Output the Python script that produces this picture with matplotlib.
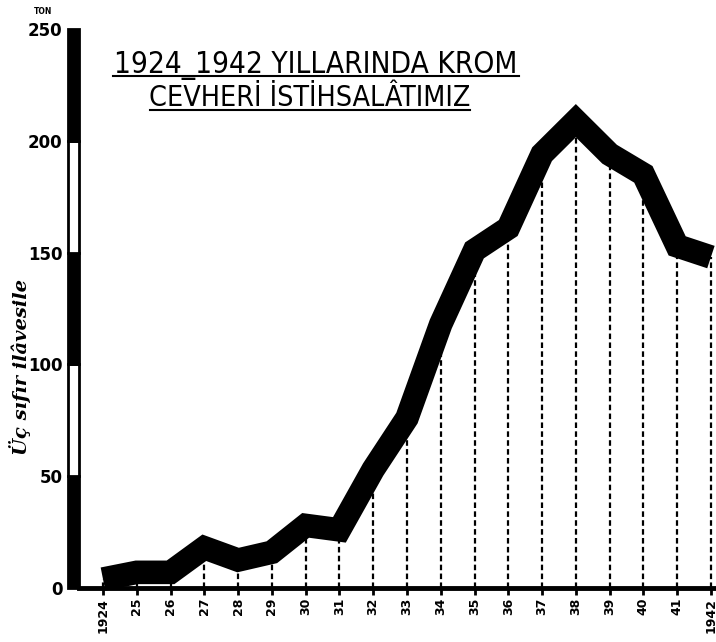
import matplotlib
matplotlib.use("Agg")
import matplotlib.pyplot as plt
from matplotlib.patches import Rectangle
from matplotlib.lines import Line2D
from matplotlib.transforms import blended_transform_factory

# chrome ore production, thousand tons
years = list(range(1924, 1943))
production = [4, 7, 7, 18, 12.5, 16, 28, 26, 53, 76, 118, 151, 161, 194, 209, 194, 185, 153, 148]
year_labels = ["1924"] + [str(y)[2:] for y in years[1:-1]] + ["1942"]
y_ticks = [0, 50, 100, 150, 200, 250]

W, H = 716, 642
fig = plt.figure(figsize=(W / 100, H / 100), dpi=100)
fig.patch.set_facecolor("white")
ax = fig.add_axes([79 / W, 54 / H, 1 - 79 / W, (588 - 29) / H])

# dashed drop lines from the axis up to the curve
ax.vlines(years, 0, production, colors="black", linestyles=(0, (2.5, 1.5)), linewidth=1.6, zorder=1)
# the thick production line
ax.plot(years, production, color="black", linewidth=17, solid_joinstyle="miter",
        solid_capstyle="butt", zorder=3, clip_on=False)

ax.set_xlim(1923.29, 1942.15)
ax.set_ylim(0, 250)

for s in ["top", "right", "left"]:
    ax.spines[s].set_visible(False)
ax.spines["bottom"].set_linewidth(3.5)

ax.set_xticks(years)
ax.set_xticklabels(year_labels, rotation=90, fontsize=9, fontweight="bold", va="top")
ax.tick_params(axis="x", length=5, width=2, pad=2)

ax.set_yticks(y_ticks)
ax.set_yticklabels([str(v) for v in y_ticks], fontsize=12, fontweight="bold")
ax.tick_params(axis="y", length=0, pad=12)

# thick segmented y axis bar
tr = blended_transform_factory(fig.transFigure, ax.transData)
for i in range(len(y_ticks) - 1):
    lo, hi = y_ticks[i], y_ticks[i + 1]
    fill = "black" if i % 2 == 0 else "white"
    r = Rectangle((68 / W, lo), 11 / W, hi - lo, transform=tr, facecolor=fill,
                  edgecolor="black", linewidth=2, clip_on=False, zorder=5)
    fig.add_artist(r)

fig.text(43 / W, 1 - 11 / H, "TON", fontsize=5.5, fontweight="bold", ha="center", va="center")

fig.text(20 / W, 1 - 367 / H, "Üç sıfır ilâvesile", rotation=90, fontsize=14,
         family="DejaVu Serif", style="italic", fontweight="bold", ha="center", va="center")

# title with underlines
fig.text(316 / W, 1 - 73 / H, "1924_1942 YILLARINDA KROM", fontsize=21.3, ha="center",
         va="baseline", family="DejaVu Sans", fontstretch="condensed")
fig.text(310 / W, 1 - 106 / H, "CEVHERİ İSTİHSALÂTIMIZ", fontsize=20.5, ha="center",
         va="baseline", family="DejaVu Sans", fontstretch="condensed")
fig.add_artist(Line2D([113 / W, 519 / W], [1 - 76 / H, 1 - 76 / H], color="black", linewidth=1.5))
fig.add_artist(Line2D([150 / W, 470 / W], [1 - 110 / H, 1 - 110 / H], color="black", linewidth=1.5))

fig.savefig("out.png", dpi=100, facecolor="white")
